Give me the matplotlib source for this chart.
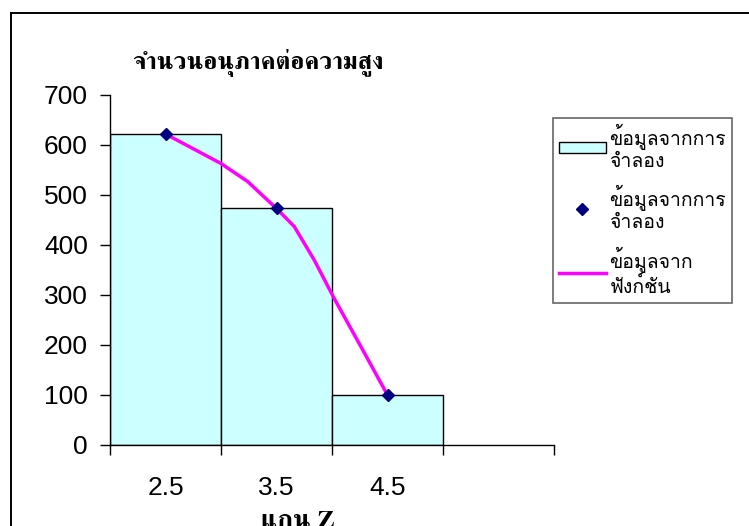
import matplotlib
matplotlib.use("Agg")
import matplotlib.pyplot as plt
from matplotlib.lines import Line2D

# Simulated particle counts per height bin (z-axis)
z_bins = [2.5, 3.5, 4.5]
sim_counts = [622, 473, 100]

# Fitted function evaluated along z
func_z = [2.5, 3.0, 3.24, 3.5, 3.66, 3.84, 4.02, 4.26, 4.5]
func_counts = [622, 563, 527, 473, 437, 370, 293, 197, 100]

y_ticks = [0, 100, 200, 300, 400, 500, 600, 700]
x_tick_labels = ["2.5", "3.5", "4.5"]

title_text = "จำนวนอนุภาคต่อความสูง"
xlabel_text = "แกน Z"
label_bars = "ข้อมูลจากการ\nจำลอง"
label_points = "ข้อมูลจากการ\nจำลอง"
label_func = "ข้อมูลจาก\nฟังก์ชัน"

W, H = 749, 526
fig = plt.figure(figsize=(W / 100, H / 100), dpi=100)

def fx(px):
    return px / W

def fy(py):
    return 1 - py / H

ax = fig.add_axes([fx(110), fy(445), fx(554) - fx(110), fy(95) - fy(445)])
ax.set_facecolor("none")

bars = ax.bar(z_bins, sim_counts, width=1.0, color="#CCFFFF",
              edgecolor="black", linewidth=1.0, zorder=2, label=label_bars)
pts, = ax.plot(z_bins, sim_counts, linestyle="none", marker="D",
               markersize=6.2, color="#000080", zorder=4, label=label_points)
fline, = ax.plot(func_z, func_counts, color="#FF00FF", linewidth=2.5,
                 zorder=3, label=label_func)

ax.set_xlim(2.0, 6.0)
ax.set_ylim(0, 700)

for side in ("top", "right"):
    ax.spines[side].set_visible(False)
for side in ("left", "bottom"):
    ax.spines[side].set_linewidth(1.0)
    ax.spines[side].set_color("black")

tick_font = dict(family=["Liberation Sans", "DejaVu Sans"], size=19)
ax.set_yticks(y_ticks)
ax.set_yticklabels([str(v) for v in y_ticks], **tick_font)
ax.tick_params(axis="y", direction="out", length=7, width=1.0, pad=9)

ax.set_xticks([2, 3, 4, 5, 6])
ax.set_xticklabels([])
ax.set_xticks(z_bins, minor=True)
ax.set_xticklabels(x_tick_labels, minor=True, **tick_font)
ax.tick_params(axis="x", which="major", direction="out", length=7, width=1.0)
ax.tick_params(axis="x", which="minor", length=0, pad=22)

fig.text(fx(258), fy(63), title_text, ha="center", va="center",
         family=["FreeSerif", "DejaVu Serif"], weight="bold", size=18)
fig.text(fx(298), fy(511), xlabel_text, ha="center", va="top",
         family=["FreeSerif", "DejaVu Serif"], weight="bold", size=19)

leg = ax.legend(handles=[bars, pts, fline], loc="upper left",
                bbox_to_anchor=(fx(553), fy(118)), bbox_transform=fig.transFigure,
                borderaxespad=0, fancybox=False, frameon=True,
                prop=dict(family=["Loma", "DejaVu Sans"], size=14),
                handlelength=2.4, handleheight=0.55, handletextpad=0.2,
                labelspacing=0.75, borderpad=0.3)
leg.get_frame().set_edgecolor("#404040")
leg.get_frame().set_linewidth(1.2)
leg.get_frame().set_facecolor("white")

# outer chart border running off the right and bottom edges
fig.add_artist(Line2D([fx(11), fx(11)], [fy(13), -0.05], color="black",
                      linewidth=1.4, transform=fig.transFigure))
fig.add_artist(Line2D([fx(11), 1.05], [fy(13), fy(13)], color="black",
                      linewidth=1.4, transform=fig.transFigure))

fig.savefig("out.png", dpi=100)
